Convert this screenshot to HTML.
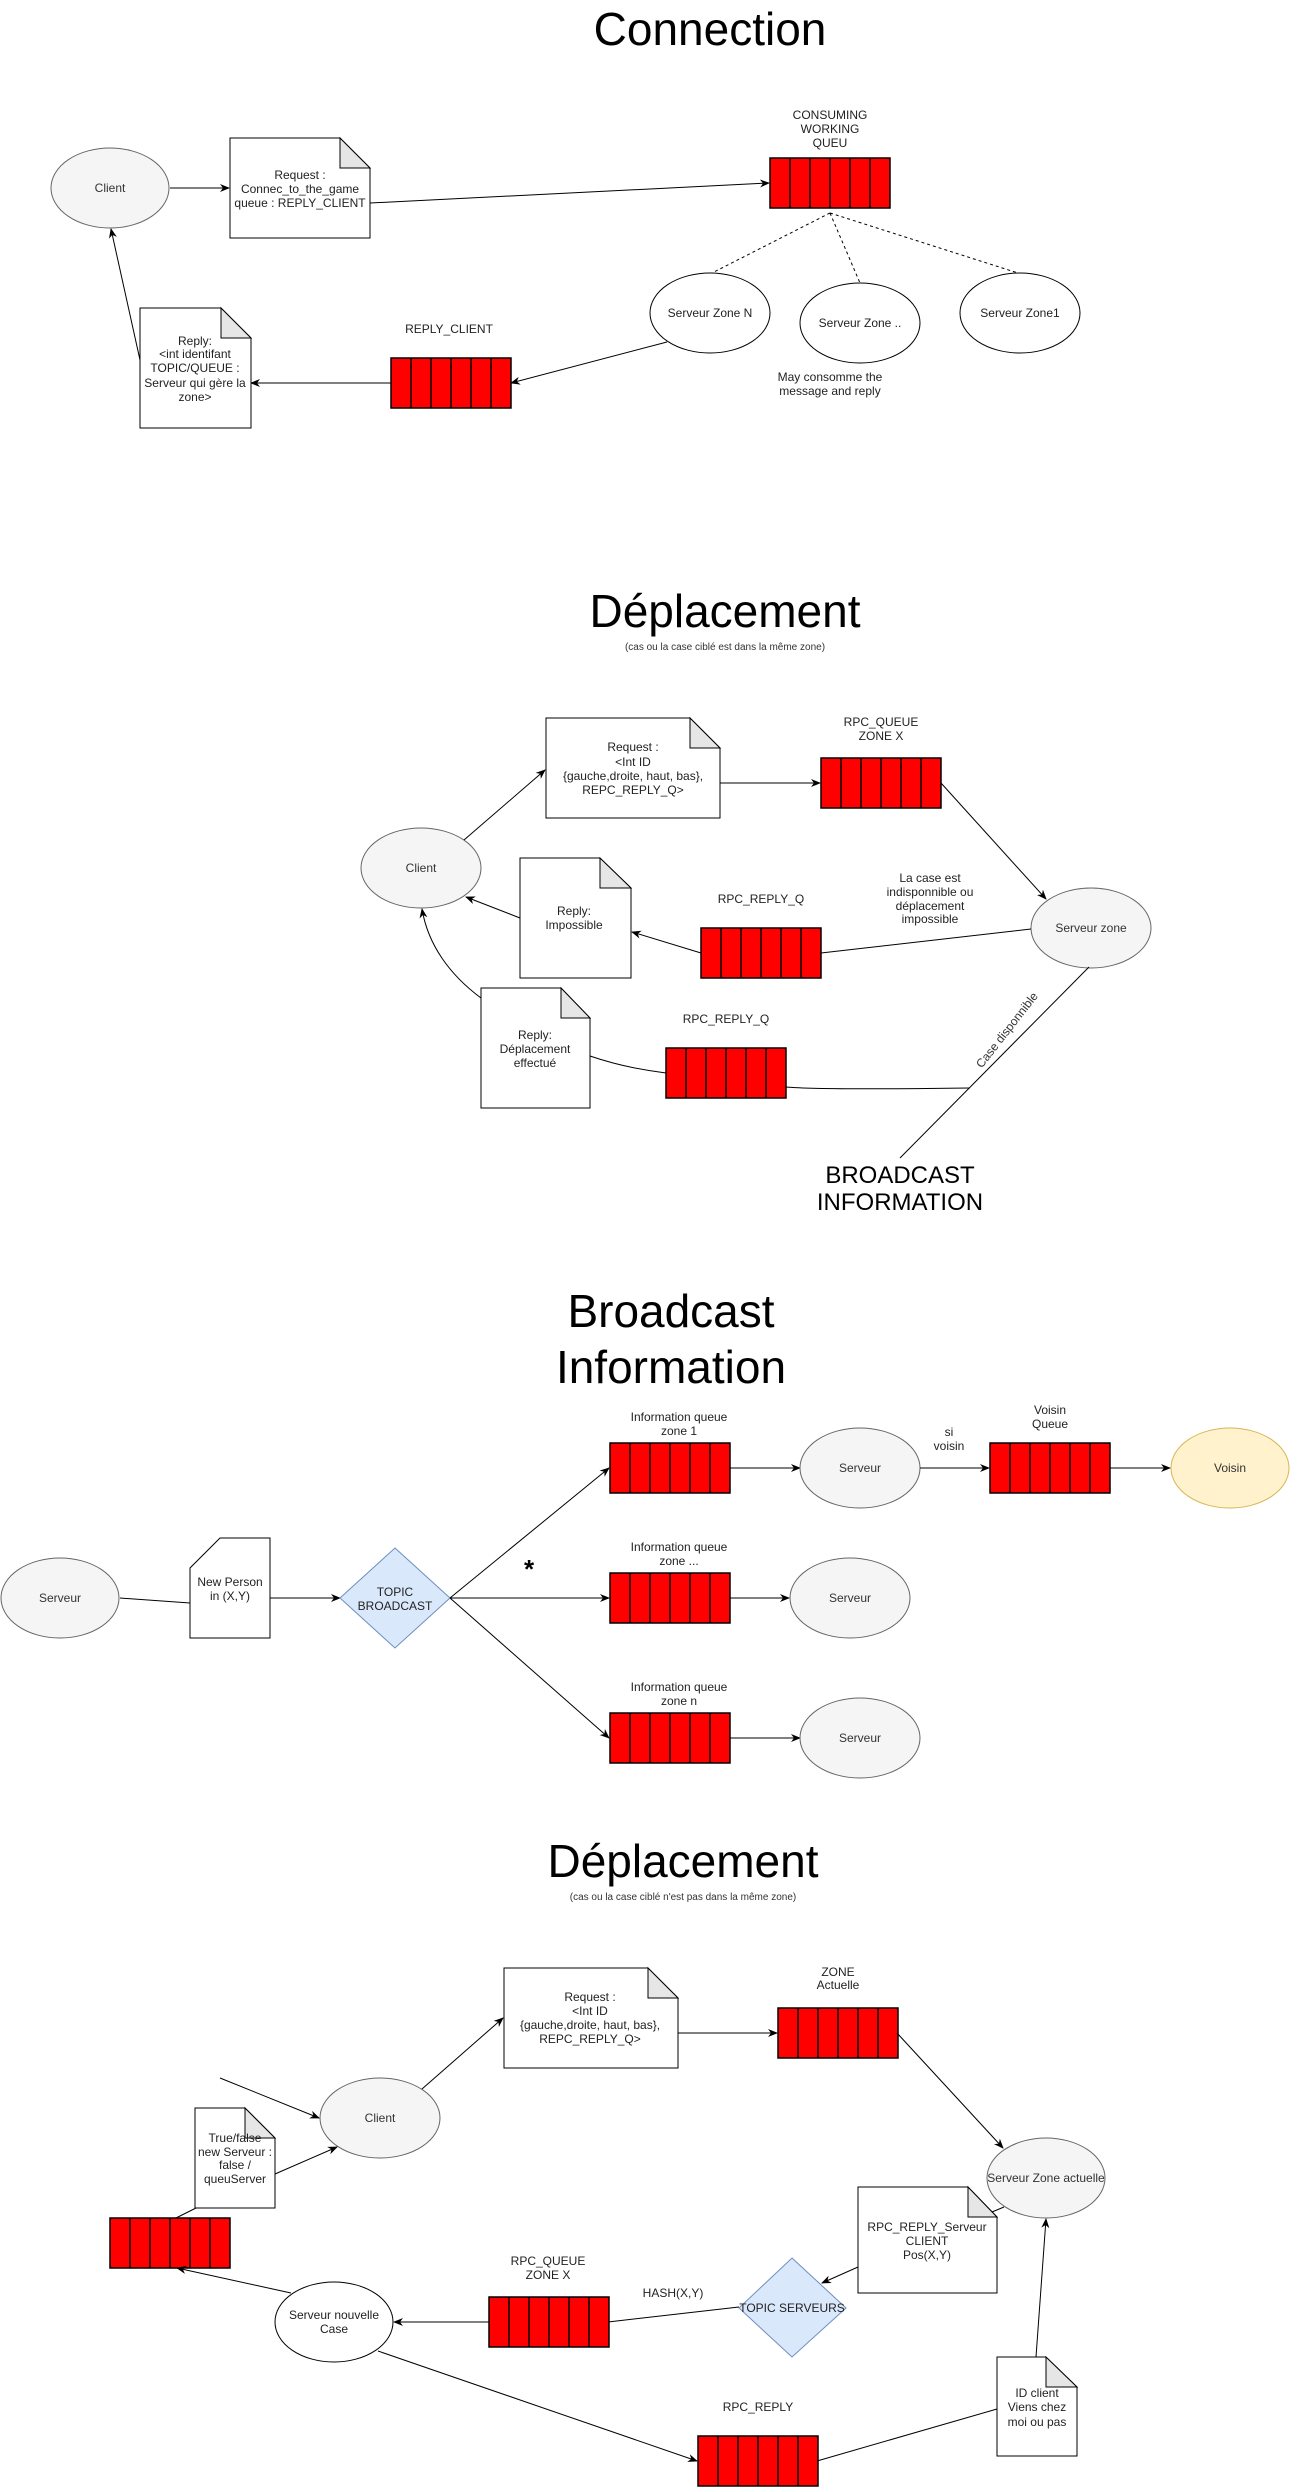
<!DOCTYPE html>
<html><head><meta charset="utf-8"><style>
html,body{margin:0;padding:0;background:#fff;}
svg{display:block;}
text{font-family:"Liberation Sans",Arial,sans-serif;}
</style></head><body>
<svg width="1291" height="2489" viewBox="0 0 1291 2489" xmlns="http://www.w3.org/2000/svg">
<defs>
<marker id="a" markerWidth="10" markerHeight="10" refX="9" refY="5" orient="auto" markerUnits="userSpaceOnUse">
<path d="M0,1 L10,5 L0,9 L3,5 Z" fill="#000"/>
</marker>
<g id="q">
<rect x="0" y="0" width="120" height="50" fill="#ff0000" stroke="#000" stroke-width="1.5"/>
<path d="M20,0V50M40,0V50M60,0V50M80,0V50M100,0V50" stroke="#000" stroke-width="1.5"/>
</g>
</defs>
<g font-size="12" fill="#222" text-anchor="middle">

<!-- ========== Section 1 : Connection ========== -->
<text x="710" y="45" font-size="46" fill="#000">Connection</text>
<ellipse cx="110" cy="188" rx="59" ry="40" fill="#f5f5f5" stroke="#666"/>
<text x="110" y="192" fill="#333">Client</text>
<path d="M230,138H340L370,168V238H230Z" fill="#fff" stroke="#000"/>
<path d="M340,138V168H370Z" fill="#e6e6e6" stroke="#000"/>
<text x="300" y="179">Request :</text>
<text x="300" y="193">Connec_to_the_game</text>
<text x="300" y="207">queue : REPLY_CLIENT</text>
<line x1="170" y1="188" x2="229" y2="188" stroke="#000" marker-end="url(#a)"/>
<line x1="370" y1="203" x2="769" y2="183" stroke="#000" marker-end="url(#a)"/>
<text x="830" y="119">CONSUMING</text>
<text x="830" y="133">WORKING</text>
<text x="830" y="147">QUEU</text>
<use href="#q" x="770" y="158"/>
<path d="M830,213L712,273M830,213L860,283M830,213L1018,273" stroke="#000" stroke-dasharray="3,3" fill="none"/>
<ellipse cx="710" cy="313" rx="60" ry="40" fill="#fff" stroke="#000"/>
<text x="710" y="317">Serveur Zone N</text>
<ellipse cx="860" cy="323" rx="60" ry="40" fill="#fff" stroke="#000"/>
<text x="860" y="327">Serveur Zone  ..</text>
<ellipse cx="1020" cy="313" rx="60" ry="40" fill="#fff" stroke="#000"/>
<text x="1020" y="317">Serveur Zone1</text>
<text x="830" y="381">May consomme the</text>
<text x="830" y="395">message and reply</text>
<text x="449" y="333">REPLY_CLIENT</text>
<use href="#q" x="391" y="358"/>
<line x1="667" y1="342" x2="511" y2="383" stroke="#000" marker-end="url(#a)"/>
<line x1="391" y1="383" x2="251" y2="383" stroke="#000" marker-end="url(#a)"/>
<path d="M140,308H221L251,338V428H140Z" fill="#fff" stroke="#000"/>
<path d="M221,308V338H251Z" fill="#e6e6e6" stroke="#000"/>
<text x="195" y="345">Reply:</text>
<text x="195" y="358">&lt;int identifant</text>
<text x="195" y="372">TOPIC/QUEUE :</text>
<text x="195" y="387">Serveur qui gère la</text>
<text x="195" y="401">zone&gt;</text>
<line x1="140" y1="360" x2="111" y2="229" stroke="#000" marker-end="url(#a)"/>

<!-- ========== Section 2 : Déplacement ========== -->
<text x="725" y="627" font-size="46" fill="#000">Déplacement</text>
<text x="725" y="650" font-size="10" fill="#333">(cas ou la case ciblé est dans la même zone)</text>
<ellipse cx="421" cy="868" rx="60" ry="40" fill="#f5f5f5" stroke="#666"/>
<text x="421" y="872" fill="#333">Client</text>
<path d="M546,718H690L720,748V818H546Z" fill="#fff" stroke="#000"/>
<path d="M690,718V748H720Z" fill="#e6e6e6" stroke="#000"/>
<text x="633" y="751">Request :</text>
<text x="633" y="766">&lt;Int ID</text>
<text x="633" y="780">{gauche,droite, haut, bas},</text>
<text x="633" y="794">REPC_REPLY_Q&gt;</text>
<line x1="464" y1="840" x2="545" y2="770" stroke="#000" marker-end="url(#a)"/>
<line x1="720" y1="783" x2="820" y2="783" stroke="#000" marker-end="url(#a)"/>
<text x="881" y="726">RPC_QUEUE</text>
<text x="881" y="740">ZONE X</text>
<use href="#q" x="821" y="758"/>
<line x1="941" y1="783" x2="1046" y2="899" stroke="#000" marker-end="url(#a)"/>
<ellipse cx="1091" cy="928" rx="60" ry="40" fill="#f5f5f5" stroke="#666"/>
<text x="1091" y="932" fill="#333">Serveur zone</text>
<text x="930" y="882">La case est</text>
<text x="930" y="896">indisponnible ou</text>
<text x="930" y="910">déplacement</text>
<text x="930" y="923">impossible</text>
<line x1="1031" y1="929" x2="821" y2="953" stroke="#000"/>
<text x="761" y="903">RPC_REPLY_Q</text>
<use href="#q" x="701" y="928"/>
<line x1="701" y1="953" x2="632" y2="932" stroke="#000" marker-end="url(#a)"/>
<path d="M520,858H600L631,888V978H520Z" fill="#fff" stroke="#000"/>
<path d="M600,858V888H631Z" fill="#e6e6e6" stroke="#000"/>
<text x="574" y="915">Reply:</text>
<text x="574" y="929">Impossible</text>
<line x1="520" y1="918" x2="466" y2="897" stroke="#000" marker-end="url(#a)"/>
<path d="M481,988H561L590,1018V1108H481Z" fill="#fff" stroke="#000"/>
<path d="M561,988V1018H590Z" fill="#e6e6e6" stroke="#000"/>
<text x="535" y="1039">Reply:</text>
<text x="535" y="1053">Déplacement</text>
<text x="535" y="1067">effectué</text>
<path d="M481,998C450,975 428,945 422,909" fill="none" stroke="#000" marker-end="url(#a)"/>
<text x="726" y="1023">RPC_REPLY_Q</text>
<use href="#q" x="666" y="1048"/>
<path d="M590,1056Q625,1068 666,1073" fill="none" stroke="#000"/>
<path d="M786,1087Q820,1090 970,1088" fill="none" stroke="#000"/>
<line x1="1089" y1="967" x2="900" y2="1158" stroke="#000"/>
<text x="1007" y="1034" font-size="12" fill="#333" transform="rotate(-52 1007 1030)">Case disponnible</text>
<text x="900" y="1183" font-size="24" fill="#000">BROADCAST</text>
<text x="900" y="1210" font-size="24" fill="#000">INFORMATION</text>

<!-- ========== Section 3 : Broadcast Information ========== -->
<text x="671" y="1327" font-size="46" fill="#000">Broadcast</text>
<text x="671" y="1383" font-size="46" fill="#000">Information</text>
<ellipse cx="60" cy="1598" rx="59" ry="40" fill="#f5f5f5" stroke="#666"/>
<text x="60" y="1602" fill="#333">Serveur</text>
<line x1="120" y1="1598" x2="190" y2="1603" stroke="#000"/>
<path d="M220,1538H270V1638H190V1568Z" fill="#fff" stroke="#000"/>
<text x="230" y="1586">New Person</text>
<text x="230" y="1600">in (X,Y)</text>
<line x1="270" y1="1598" x2="340" y2="1598" stroke="#000" marker-end="url(#a)"/>
<path d="M395,1548L450,1598L395,1648L340,1598Z" fill="#dae8fc" stroke="#6c8ebf"/>
<text x="395" y="1596">TOPIC</text>
<text x="395" y="1610">BROADCAST</text>
<line x1="450" y1="1598" x2="609" y2="1468" stroke="#000" marker-end="url(#a)"/>
<line x1="450" y1="1598" x2="609" y2="1598" stroke="#000" marker-end="url(#a)"/>
<line x1="450" y1="1598" x2="609" y2="1738" stroke="#000" marker-end="url(#a)"/>
<text x="529" y="1578" font-size="26" font-weight="bold" fill="#000">*</text>
<text x="679" y="1421">Information queue</text>
<text x="679" y="1435">zone 1</text>
<use href="#q" x="610" y="1443"/>
<text x="679" y="1551">Information queue</text>
<text x="679" y="1565">zone ...</text>
<use href="#q" x="610" y="1573"/>
<text x="679" y="1691">Information queue</text>
<text x="679" y="1705">zone n</text>
<use href="#q" x="610" y="1713"/>
<line x1="730" y1="1468" x2="800" y2="1468" stroke="#000" marker-end="url(#a)"/>
<line x1="730" y1="1598" x2="789" y2="1598" stroke="#000" marker-end="url(#a)"/>
<line x1="730" y1="1738" x2="800" y2="1738" stroke="#000" marker-end="url(#a)"/>
<ellipse cx="860" cy="1468" rx="60" ry="40" fill="#f5f5f5" stroke="#666"/>
<text x="860" y="1472" fill="#333">Serveur</text>
<ellipse cx="850" cy="1598" rx="60" ry="40" fill="#f5f5f5" stroke="#666"/>
<text x="850" y="1602" fill="#333">Serveur</text>
<ellipse cx="860" cy="1738" rx="60" ry="40" fill="#f5f5f5" stroke="#666"/>
<text x="860" y="1742" fill="#333">Serveur</text>
<text x="949" y="1436">si</text>
<text x="949" y="1450">voisin</text>
<line x1="920" y1="1468" x2="989" y2="1468" stroke="#000" marker-end="url(#a)"/>
<text x="1050" y="1414">Voisin</text>
<text x="1050" y="1428">Queue</text>
<use href="#q" x="990" y="1443"/>
<line x1="1110" y1="1468" x2="1170" y2="1468" stroke="#000" marker-end="url(#a)"/>
<ellipse cx="1230" cy="1468" rx="59" ry="40" fill="#fff2cc" stroke="#d6b656"/>
<text x="1230" y="1472" fill="#333">Voisin</text>

<!-- ========== Section 4 : Déplacement (autre zone) ========== -->
<text x="683" y="1877" font-size="46" fill="#000">Déplacement</text>
<text x="683" y="1900" font-size="10" fill="#333">(cas ou la case ciblé n'est pas dans la même zone)</text>
<ellipse cx="380" cy="2118" rx="60" ry="40" fill="#f5f5f5" stroke="#666"/>
<text x="380" y="2122" fill="#333">Client</text>
<path d="M504,1968H648L678,1998V2068H504Z" fill="#fff" stroke="#000"/>
<path d="M648,1968V1998H678Z" fill="#e6e6e6" stroke="#000"/>
<text x="590" y="2001">Request :</text>
<text x="590" y="2015">&lt;Int ID</text>
<text x="590" y="2029">{gauche,droite, haut, bas},</text>
<text x="590" y="2043">REPC_REPLY_Q&gt;</text>
<line x1="422" y1="2089" x2="503" y2="2018" stroke="#000" marker-end="url(#a)"/>
<line x1="678" y1="2033" x2="777" y2="2033" stroke="#000" marker-end="url(#a)"/>
<text x="838" y="1976">ZONE</text>
<text x="838" y="1989">Actuelle</text>
<use href="#q" x="778" y="2008"/>
<line x1="897" y1="2033" x2="1003" y2="2148" stroke="#000" marker-end="url(#a)"/>
<ellipse cx="1046" cy="2178" rx="59" ry="40" fill="#f5f5f5" stroke="#666"/>
<text x="1046" y="2182" fill="#333">Serveur Zone actuelle</text>
<line x1="220" y1="2078" x2="319" y2="2118" stroke="#000" marker-end="url(#a)"/>
<line x1="275" y1="2174" x2="337" y2="2147" stroke="#000" marker-end="url(#a)"/>
<line x1="176" y1="2218" x2="196" y2="2208" stroke="#000"/>
<path d="M195,2108H245L275,2138V2208H195Z" fill="#fff" stroke="#000"/>
<path d="M245,2108V2138H275Z" fill="#e6e6e6" stroke="#000"/>
<text x="235" y="2142">True/false</text>
<text x="235" y="2156">new Serveur :</text>
<text x="235" y="2169">false /</text>
<text x="235" y="2183">queuServer</text>
<use href="#q" x="110" y="2218"/>
<line x1="1004" y1="2207" x2="992" y2="2212" stroke="#000"/>
<path d="M858,2187H968L997,2217V2293H858Z" fill="#fff" stroke="#000"/>
<path d="M968,2187V2217H997Z" fill="#e6e6e6" stroke="#000"/>
<text x="927" y="2231">RPC_REPLY_Serveur</text>
<text x="927" y="2245">CLIENT</text>
<text x="927" y="2259">Pos(X,Y)</text>
<line x1="858" y1="2267" x2="822" y2="2283" stroke="#000" marker-end="url(#a)"/>
<path d="M792,2258L846,2308L792,2357L739,2308Z" fill="#dae8fc" stroke="#6c8ebf"/>
<text x="792" y="2312">TOPIC SERVEURS</text>
<line x1="739" y1="2307" x2="608" y2="2322" stroke="#000"/>
<text x="673" y="2297">HASH(X,Y)</text>
<text x="548" y="2265">RPC_QUEUE</text>
<text x="548" y="2279">ZONE X</text>
<use href="#q" x="489" y="2297"/>
<line x1="489" y1="2322" x2="394" y2="2322" stroke="#000" marker-end="url(#a)"/>
<ellipse cx="334" cy="2322" rx="59" ry="40" fill="#fff" stroke="#000"/>
<text x="334" y="2319">Serveur nouvelle</text>
<text x="334" y="2333">Case</text>
<line x1="291" y1="2293" x2="177" y2="2268" stroke="#000" marker-end="url(#a)"/>
<line x1="378" y1="2351" x2="697" y2="2461" stroke="#000" marker-end="url(#a)"/>
<text x="758" y="2411">RPC_REPLY</text>
<use href="#q" x="698" y="2436"/>
<line x1="817" y1="2461" x2="997" y2="2409" stroke="#000"/>
<path d="M997,2357H1046L1077,2387V2456H997Z" fill="#fff" stroke="#000"/>
<path d="M1046,2357V2387H1077Z" fill="#e6e6e6" stroke="#000"/>
<text x="1037" y="2397">ID client</text>
<text x="1037" y="2411">Viens chez</text>
<text x="1037" y="2426">moi ou pas</text>
<line x1="1036" y1="2357" x2="1046" y2="2219" stroke="#000" marker-end="url(#a)"/>
</g>
</svg>
</body></html>
